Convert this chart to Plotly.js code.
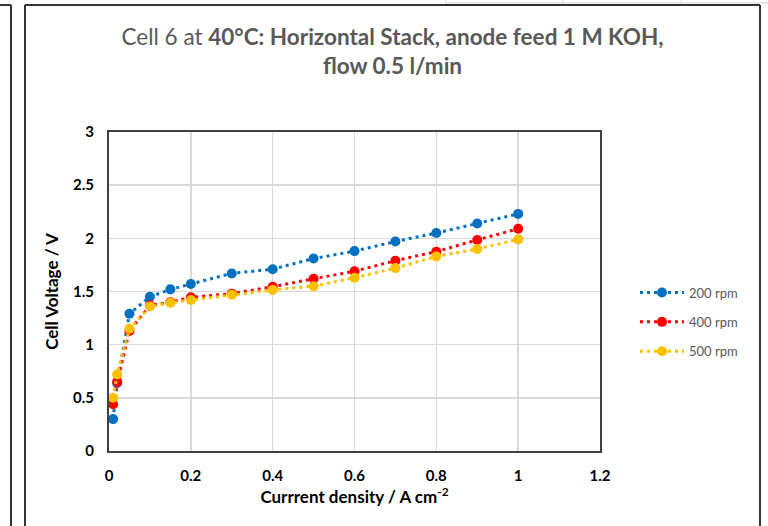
<!DOCTYPE html>
<html>
<head>
<meta charset="utf-8">
<script src="https://cdn.plot.ly/plotly-3.0.1.min.js"></script>
<style>html,body{margin:0;padding:0;background:#fff;}#chart{width:768px;height:526px;}</style>
</head>
<body>
<div id="chart"></div>
<script>
// Data
const currentDensity = [0.01, 0.02, 0.05, 0.1, 0.15, 0.2, 0.3, 0.4, 0.5, 0.6, 0.7, 0.8, 0.9, 1.0];
const v200 = [0.30, 0.64, 1.29, 1.45, 1.52, 1.57, 1.67, 1.71, 1.81, 1.88, 1.97, 2.05, 2.14, 2.23];
const v400 = [0.44, 0.65, 1.13, 1.37, 1.40, 1.445, 1.48, 1.545, 1.62, 1.69, 1.79, 1.875, 1.985, 2.09];
const v500 = [0.50, 0.72, 1.15, 1.36, 1.395, 1.42, 1.47, 1.515, 1.55, 1.63, 1.72, 1.83, 1.90, 1.99];
const seriesNames = ["200 rpm", "400 rpm", "500 rpm"];
const xTicks = [0, 0.2, 0.4, 0.6, 0.8, 1, 1.2];
const yTicks = [0, 0.5, 1, 1.5, 2, 2.5, 3];

const colors = ["#0070C0", "#FF0000", "#FFC000"];
const FONT = "Lato, sans-serif";

const W = 768, H = 526, L = 109, R = 168, T = 132, B = 75;
const pw = W - L - R, ph = H - T - B;
const px = X => (X - L) / pw;
const py = Y => (H - B - Y) / ph;

const traces = [v200, v400, v500].map((v, i) => ({
  x: currentDensity, y: v, name: seriesNames[i], type: "scatter", mode: "lines+markers",
  legendgroup: "g" + i,
  line: {color: colors[i], width: 3, dash: "3px,4px"},
  marker: {color: colors[i], size: 10}
}));

function line(x0, y0, x1, y1, color, w) {
  return {type: "line", xref: "paper", yref: "paper", x0: px(x0), y0: py(y0), x1: px(x1), y1: py(y1),
          line: {color: color, width: w}, layer: "above"};
}

const shapes = [
  line(25, 5, 760, 5, "#333", 2),
  line(25, 5, 25, 540, "#333", 2),
  line(760, 5, 760, 540, "#333", 2),
  line(11, 5, 11, 540, "#333", 2),
  line(0, 5, 11, 5, "#333", 2),
  line(446, 3, 768, 3, "#d4d4d4", 1),
  line(446, 0, 446, 4, "#d4d4d4", 1),
  line(563, 0, 563, 4, "#d4d4d4", 1),
  line(681, 0, 681, 4, "#d4d4d4", 1)
];

const layout = {
  width: W, height: H,
  margin: {l: L, r: R, t: T, b: B},
  paper_bgcolor: "#fff", plot_bgcolor: "#fff",
  font: {family: FONT, color: "#000"},
  title: {
    text: "<span style='font-weight:normal'>Cell 6 at </span><b>40°C: Horizontal Stack, anode feed 1 M KOH,</b><br><b>flow 0.5 l/min</b>",
    font: {family: FONT, size: 22.5, color: "#595959"},
    x: 392.5 / W, xanchor: "center", xref: "container",
    y: 1 - 45 / H, yanchor: "middle", yref: "container"
  },
  xaxis: {
    range: [0, 1.2], tickvals: xTicks, ticktext: xTicks.map(String),
    showgrid: true, gridcolor: "#d9d9d9", gridwidth: 1.5,
    showline: true, mirror: true, linecolor: "#404040", linewidth: 2,
    zeroline: false, ticks: "", ticklabelstandoff: 10,
    tickfont: {family: FONT, size: 15, color: "#000", weight: "bold"},
    title: {text: "<b>Currrent density / A cm<sup>-2</sup></b>", font: {family: FONT, size: 17, color: "#000"}, standoff: 8}
  },
  yaxis: {
    range: [0, 3], tickvals: yTicks, ticktext: yTicks.map(String),
    showgrid: true, gridcolor: "#d9d9d9", gridwidth: 1.5,
    showline: true, mirror: true, linecolor: "#404040", linewidth: 2,
    zeroline: false, ticks: "", ticklabelstandoff: 10,
    tickfont: {family: FONT, size: 15, color: "#000", weight: "bold"},
    title: {text: "<b>Cell Voltage / V</b>", font: {family: FONT, size: 17, color: "#000"}, standoff: 10}
  },
  legend: {
    x: px(635), xanchor: "left", y: py(322), yanchor: "middle",
    font: {family: FONT, size: 13, color: "#595959"},
    traceorder: "grouped", tracegroupgap: 9.5, itemwidth: 44,
    bgcolor: "rgba(0,0,0,0)"
  },
  showlegend: true,
  shapes: shapes
};

Plotly.newPlot("chart", traces, layout, {displayModeBar: false, staticPlot: true});
</script>
</body>
</html>
